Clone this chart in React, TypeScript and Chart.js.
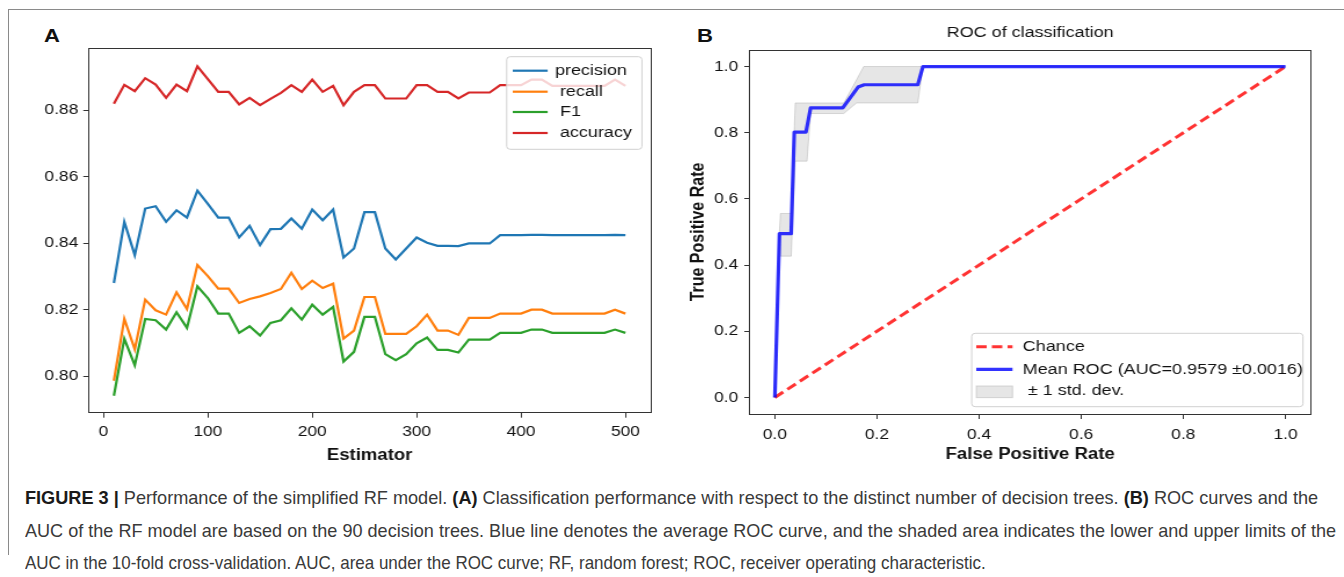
import React, { useEffect, useLayoutEffect, useRef } from "react";
import { Chart, registerables } from "chart.js";

Chart.register(...registerables);

// ---------------- data ----------------
const ESTIMATORS = [10, 20, 30, 40, 50, 60, 70, 80, 90, 100, 110, 120, 130, 140, 150, 160, 170, 180, 190, 200, 210, 220, 230, 240, 250, 260, 270, 280, 290, 300, 310, 320, 330, 340, 350, 360, 370, 380, 390, 400, 410, 420, 430, 440, 450, 460, 470, 480, 490, 500];

const PRECISION = [0.828, 0.8464, 0.8364, 0.8504, 0.8511, 0.8464, 0.8499, 0.8477, 0.8558, 0.8518, 0.8477, 0.8477, 0.8417, 0.8452, 0.8394, 0.8442, 0.8443, 0.8474, 0.8443, 0.8501, 0.8469, 0.8501, 0.8357, 0.8384, 0.8493, 0.8493, 0.8384, 0.8351, 0.8384, 0.8417, 0.8401, 0.8392, 0.8392, 0.8391, 0.8399, 0.8399, 0.8399, 0.8424, 0.8424, 0.8424, 0.8425, 0.8425, 0.8424, 0.8424, 0.8424, 0.8424, 0.8424, 0.8424, 0.8425, 0.8424];

const RECALL = [0.7986, 0.8172, 0.8081, 0.823, 0.8198, 0.8185, 0.8252, 0.8202, 0.8334, 0.8301, 0.8263, 0.8263, 0.822, 0.8232, 0.824, 0.825, 0.8262, 0.8311, 0.8262, 0.8287, 0.8265, 0.8278, 0.8113, 0.8137, 0.8238, 0.8238, 0.8127, 0.8127, 0.8127, 0.815, 0.8185, 0.8137, 0.8137, 0.8124, 0.8175, 0.8175, 0.8175, 0.8188, 0.8188, 0.8188, 0.82, 0.82, 0.8188, 0.8188, 0.8188, 0.8188, 0.8188, 0.8188, 0.82, 0.8188];

const F1 = [0.7941, 0.8112, 0.8033, 0.8172, 0.8168, 0.814, 0.8192, 0.8145, 0.827, 0.8235, 0.8188, 0.8188, 0.813, 0.815, 0.8122, 0.816, 0.8168, 0.8204, 0.817, 0.8215, 0.8185, 0.8208, 0.8044, 0.8073, 0.8178, 0.8178, 0.8066, 0.8048, 0.8066, 0.8099, 0.8116, 0.8079, 0.8079, 0.8071, 0.811, 0.811, 0.811, 0.813, 0.813, 0.813, 0.814, 0.814, 0.813, 0.813, 0.813, 0.813, 0.813, 0.813, 0.814, 0.813];

const ACCURACY = [0.8819, 0.8876, 0.8857, 0.8896, 0.8877, 0.8837, 0.8877, 0.8857, 0.8932, 0.8893, 0.8855, 0.8855, 0.8817, 0.8837, 0.8815, 0.8834, 0.8852, 0.8875, 0.8855, 0.8892, 0.8855, 0.8873, 0.8815, 0.8855, 0.8875, 0.8875, 0.8835, 0.8835, 0.8835, 0.8875, 0.8875, 0.8855, 0.8855, 0.8835, 0.8853, 0.8853, 0.8853, 0.8875, 0.8875, 0.8875, 0.8892, 0.8892, 0.8873, 0.8873, 0.8873, 0.8873, 0.8873, 0.8873, 0.8892, 0.8873];

const A_X_TICKS = [0, 100, 200, 300, 400, 500];
const A_Y_TICKS = [0.8, 0.82, 0.84, 0.86, 0.88];

const CHANCE_FPR = [0, 1];
const CHANCE_TPR = [0, 1];

const MEAN_FPR = [0, 0.009, 0.032, 0.038, 0.061, 0.07, 0.133, 0.163, 0.175, 0.28, 0.29, 1.0];
const MEAN_TPR = [0, 0.495, 0.495, 0.802, 0.802, 0.875, 0.875, 0.938, 0.945, 0.945, 1.0, 1.0];

const BAND_FPR = [0, 0.009, 0.011, 0.032, 0.04, 0.063, 0.07, 0.135, 0.16, 0.174, 0.28, 0.29, 1.0];
const BAND_UPPER = [0, 0.5, 0.556, 0.556, 0.89, 0.89, 0.89, 0.89, 0.96, 1.0, 1.0, 1.0, 1.0];
const BAND_LOWER = [0, 0.49, 0.427, 0.427, 0.714, 0.714, 0.858, 0.858, 0.89, 0.89, 0.89, 1.0, 1.0];

const ROC_TICKS = [0, 0.2, 0.4, 0.6, 0.8, 1.0];

// ---------------- styling ----------------
const S = 1.16; // horizontal stretch of the reference figure
const FONT = "'Liberation Sans', Arial, Helvetica, sans-serif";
const AXIS = "#333333";
const TEXT = "#111111";

const pts = (xs: number[], ys: number[]) => xs.map((x, i) => ({ x, y: ys[i] }));

const framePlugin = {
  id: "frame",
  afterDatasetsDraw(chart: any) {
    const { ctx, chartArea } = chart;
    ctx.save();
    ctx.strokeStyle = AXIS;
    ctx.lineWidth = 1;
    ctx.strokeRect(
      Math.round(chartArea.left) + 0.5,
      Math.round(chartArea.top) + 0.5,
      Math.round(chartArea.right - chartArea.left),
      Math.round(chartArea.bottom - chartArea.top)
    );
    ctx.restore();
  },
};

function makeTitle(text: string, centerY: number, size: number) {
  return {
    id: "areaTitle",
    afterDraw(chart: any) {
      const { ctx, chartArea } = chart;
      ctx.save();
      ctx.fillStyle = TEXT;
      ctx.font = `${size}px ${FONT}`;
      ctx.textAlign = "center";
      ctx.textBaseline = "middle";
      ctx.fillText(text, (chartArea.left + chartArea.right) / 2, centerY);
      ctx.restore();
    },
  };
}

function makeLegend(o: any) {
  return {
    id: "customLegend",
    afterDraw(chart: any) {
      const { ctx, chartArea } = chart;
      const items = chart.data.datasets.filter((d: any) => d.label);
      const x0 = chartArea.right - o.right - o.width;
      const y0 = o.top != null ? chartArea.top + o.top : chartArea.bottom - o.bottom - o.height;
      ctx.save();
      const r = 3;
      ctx.beginPath();
      ctx.moveTo(x0 + r, y0);
      ctx.lineTo(x0 + o.width - r, y0);
      ctx.quadraticCurveTo(x0 + o.width, y0, x0 + o.width, y0 + r);
      ctx.lineTo(x0 + o.width, y0 + o.height - r);
      ctx.quadraticCurveTo(x0 + o.width, y0 + o.height, x0 + o.width - r, y0 + o.height);
      ctx.lineTo(x0 + r, y0 + o.height);
      ctx.quadraticCurveTo(x0, y0 + o.height, x0, y0 + o.height - r);
      ctx.lineTo(x0, y0 + r);
      ctx.quadraticCurveTo(x0, y0, x0 + r, y0);
      ctx.closePath();
      ctx.fillStyle = "rgba(255,255,255,0.8)";
      ctx.fill();
      ctx.strokeStyle = "#d0d0d0";
      ctx.lineWidth = 1;
      ctx.stroke();
      items.forEach((d: any, i: number) => {
        const y = y0 + o.rows[i];
        if (d.legendPatch) {
          ctx.fillStyle = d.backgroundColor;
          ctx.fillRect(x0 + o.handleX0, y - o.patchH / 2 + 0.8, o.handleX1 - o.handleX0, o.patchH);
          ctx.strokeStyle = d.borderColor;
          ctx.lineWidth = 1;
          ctx.strokeRect(x0 + o.handleX0, y - o.patchH / 2 + 0.8, o.handleX1 - o.handleX0, o.patchH);
        } else {
          ctx.beginPath();
          ctx.setLineDash(d.borderDash || []);
          ctx.strokeStyle = d.borderColor;
          ctx.lineWidth = d.borderWidth;
          ctx.moveTo(x0 + o.handleX0, y);
          ctx.lineTo(x0 + o.handleX1, y);
          ctx.stroke();
          ctx.setLineDash([]);
        }
        ctx.fillStyle = TEXT;
        ctx.font = `${o.fontSize}px ${FONT}`;
        ctx.textBaseline = "middle";
        ctx.textAlign = "left";
        ctx.fillText(d.label, x0 + o.textX, y);
      });
      ctx.restore();
    },
  };
}

// canvas geometry (internal units; displayed width = internal * S)
const A_W = Math.round(680 / S);
const A_H = 480;
const B_LEFT = 670;
const B_W = Math.round(674 / S);
const B_H = 480;

function PerformanceChart() {
  const ref = useRef<HTMLCanvasElement | null>(null);
  useEffect(() => {
    if (!ref.current) return;
    const chart = new Chart(ref.current, {
      type: "line",
      data: {
        datasets: [
          { label: "precision", data: pts(ESTIMATORS, PRECISION), borderColor: "#1f77b4", backgroundColor: "#1f77b4", borderWidth: 2.2, order: 3 },
          { label: " recall", data: pts(ESTIMATORS, RECALL), borderColor: "#ff7f0e", backgroundColor: "#ff7f0e", borderWidth: 2.2, order: 2 },
          { label: " F1", data: pts(ESTIMATORS, F1), borderColor: "#2ca02c", backgroundColor: "#2ca02c", borderWidth: 2.2, order: 1 },
          { label: " accuracy", data: pts(ESTIMATORS, ACCURACY), borderColor: "#d62728", backgroundColor: "#d62728", borderWidth: 2.2, order: 0 },
        ] as any,
      },
      options: {
        responsive: false,
        animation: false,
        devicePixelRatio: 1,
        layout: { padding: { top: 48.3, right: A_W - (651 / S), left: 0, bottom: 0 } },
        elements: { point: { radius: 0, hoverRadius: 0 }, line: { tension: 0 } },
        plugins: { legend: { display: false }, tooltip: { enabled: false }, title: { display: false } },
        scales: {
          x: {
            type: "linear",
            min: -14.5,
            max: 524.5,
            afterFit: (s: any) => { s.height = A_H - 412.7; },
            afterBuildTicks: (s: any) => { s.ticks = A_X_TICKS.map((v) => ({ value: v })); },
            grid: { display: true, drawOnChartArea: false, drawTicks: true, tickLength: 5, color: AXIS, lineWidth: 1 },
            border: { display: false },
            ticks: { font: { family: FONT, size: 15 }, color: TEXT, padding: 5, maxRotation: 0, autoSkip: false, callback: (v: any) => String(v) },
            title: { display: true, text: "Estimator", font: { family: FONT, size: 16, weight: "bold" }, color: TEXT, padding: { top: 0, bottom: 14.4 } },
          },
          y: {
            type: "linear",
            min: 0.789,
            max: 0.8986,
            afterFit: (s: any) => { s.width = 88.3 / S; },
            afterBuildTicks: (s: any) => { s.ticks = A_Y_TICKS.map((v) => ({ value: v })); },
            grid: { display: true, drawOnChartArea: false, drawTicks: true, tickLength: 5 / S, color: AXIS, lineWidth: 1 },
            border: { display: false },
            ticks: { font: { family: FONT, size: 15 }, color: TEXT, padding: 5 / S, autoSkip: false, callback: (v: any) => Number(v).toFixed(2) },
          },
        },
      } as any,
      plugins: [
        framePlugin,
        makeLegend({ right: 7.8, top: 8.4, width: 116.6, height: 92.6, rows: [14, 35, 55.3, 76.3], handleX0: 5.2, handleX1: 35.3, textX: 41.6, fontSize: 15.5, patchH: 0 }),
      ],
    });
    return () => chart.destroy();
  }, []);
  return (
    <canvas
      ref={ref}
      width={A_W}
      height={A_H}
      style={{ position: "absolute", left: 0, top: 0, width: A_W + "px", height: A_H + "px", transform: `scaleX(${S})`, transformOrigin: "0 0" }}
    />
  );
}

function RocChart() {
  const ref = useRef<HTMLCanvasElement | null>(null);
  useEffect(() => {
    if (!ref.current) return;
    const chart = new Chart(ref.current, {
      type: "line",
      data: {
        datasets: [
          { label: "Chance", data: pts(CHANCE_FPR, CHANCE_TPR), borderColor: "rgba(255,0,0,0.8)", borderWidth: 3, borderDash: [9, 4.5], order: 1, fill: false },
          { label: "Mean ROC (AUC=0.9579 \u00b10.0016)", data: pts(MEAN_FPR, MEAN_TPR), borderColor: "rgba(0,0,255,0.8)", borderWidth: 3.2, order: 0, fill: false, borderJoinStyle: "round" },
          { label: " \u00b1 1 std. dev.", legendPatch: true, data: pts(BAND_FPR, BAND_UPPER), borderColor: "rgba(128,128,128,0.28)", backgroundColor: "rgba(128,128,128,0.2)", borderWidth: 1, order: 2, fill: "+1" },
          { data: pts(BAND_FPR, BAND_LOWER), borderColor: "rgba(128,128,128,0.28)", backgroundColor: "rgba(128,128,128,0.2)", borderWidth: 1, order: 2, fill: false },
        ] as any,
      },
      options: {
        responsive: false,
        animation: false,
        devicePixelRatio: 1,
        layout: { padding: { top: 50, right: B_W - (1311 - B_LEFT) / S, left: 0, bottom: 0 } },
        elements: { point: { radius: 0, hoverRadius: 0 }, line: { tension: 0 } },
        plugins: { legend: { display: false }, tooltip: { enabled: false }, title: { display: false } },
        scales: {
          x: {
            type: "linear",
            min: -0.05,
            max: 1.05,
            afterFit: (s: any) => { s.height = B_H - 414; },
            afterBuildTicks: (s: any) => { s.ticks = ROC_TICKS.map((v) => ({ value: v })); },
            grid: { display: true, drawOnChartArea: false, drawTicks: true, tickLength: 5, color: AXIS, lineWidth: 1 },
            border: { display: false },
            ticks: { font: { family: FONT, size: 15 }, color: TEXT, padding: 7, maxRotation: 0, autoSkip: false, callback: (v: any) => Number(v).toFixed(1) },
            title: { display: true, text: "False Positive Rate", font: { family: FONT, size: 16, weight: "bold" }, color: TEXT, padding: { top: 0, bottom: 15.4 } },
          },
          y: {
            type: "linear",
            min: -0.05,
            max: 1.05,
            afterFit: (s: any) => { s.width = (749.3 - B_LEFT) / S; },
            afterBuildTicks: (s: any) => { s.ticks = ROC_TICKS.map((v) => ({ value: v })); },
            grid: { display: true, drawOnChartArea: false, drawTicks: true, tickLength: 5 / S, color: AXIS, lineWidth: 1 },
            border: { display: false },
            ticks: { font: { family: FONT, size: 15 }, color: TEXT, padding: 6 / S, autoSkip: false, callback: (v: any) => Number(v).toFixed(1) },
            title: { display: true, text: "True Positive Rate", font: { family: FONT, size: 16, weight: "bold" }, color: TEXT, padding: { top: 15, bottom: 0 } },
          },
        },
      } as any,
      plugins: [
        framePlugin,
        makeTitle("ROC of classification", 33, 15.5),
        makeLegend({ right: 6.9, bottom: 7.3, width: 285.6, height: 73.4, rows: [13.4, 36, 57.7], handleX0: 3.9, handleX1: 35.2, textX: 44, fontSize: 15.5, patchH: 11.7 }),
      ],
    });
    return () => chart.destroy();
  }, []);
  return (
    <canvas
      ref={ref}
      width={B_W}
      height={B_H}
      style={{ position: "absolute", left: B_LEFT, top: 0, width: B_W + "px", height: B_H + "px", transform: `scaleX(${S})`, transformOrigin: "0 0" }}
    />
  );
}

const CAPTION_LINES = [
  [["b", "FIGURE 3 |"], ["", " Performance of the simplified RF model. "], ["b", "(A)"], ["", " Classification performance with respect to the distinct number of decision trees. "], ["b", "(B)"], ["", " ROC curves and the"]],
  [["", "AUC of the RF model are based on the 90 decision trees. Blue line denotes the average ROC curve, and the shaded area indicates the lower and upper limits of the"]],
  [["", "AUC in the 10-fold cross-validation. AUC, area under the ROC curve; RF, random forest; ROC, receiver operating characteristic."]],
];
const CAPTION_CENTERS = [498, 531, 563];
const CAPTION_WIDTHS = [1293, 1311, 961];

function Caption() {
  const refs = useRef<(HTMLSpanElement | null)[]>([]);
  useLayoutEffect(() => {
    refs.current.forEach((el, i) => {
      if (el && el.offsetWidth > 0) el.style.transform = `scaleX(${CAPTION_WIDTHS[i] / el.offsetWidth})`;
    });
  }, []);
  return (
    <>
      {CAPTION_LINES.map((line, i) => (
        <span
          key={i}
          ref={(el) => { refs.current[i] = el; }}
          style={{
            position: "absolute",
            left: 25,
            top: CAPTION_CENTERS[i] - 11,
            lineHeight: "22px",
            height: 22,
            whiteSpace: "pre",
            display: "inline-block",
            transformOrigin: "0 50%",
            fontFamily: "'Liberation Sans', Arial, sans-serif",
            fontSize: 18.5,
            color: "#3a3a3a",
          }}
        >
          {line.map(([t, s], j) =>
            t === "b" ? (
              <b key={j} style={{ color: "#1a1a1a" }}>{s}</b>
            ) : (
              <span key={j}>{s}</span>
            )
          )}
        </span>
      ))}
    </>
  );
}

export default function App() {
  const panelLabel = (x: number, text: string) => (
    <div
      style={{
        position: "absolute",
        left: x,
        top: 25.5,
        fontFamily: FONT,
        fontWeight: "bold",
        fontSize: 19,
        lineHeight: "19px",
        color: "#111",
        transform: `scaleX(${S})`,
        transformOrigin: "0 0",
      }}
    >
      {text}
    </div>
  );
  return (
    <div style={{ position: "absolute", left: 0, top: 0, width: 1344, height: 577, background: "#fff", overflow: "hidden" }}>
      <div style={{ position: "absolute", left: 8, top: 9, width: 1340, height: 545, borderTop: "1px solid #8a8a8a", borderLeft: "1px solid #8a8a8a" }} />
      {panelLabel(44, "A")}
      {panelLabel(697, "B")}
      <PerformanceChart />
      <RocChart />
      <Caption />
    </div>
  );
}
